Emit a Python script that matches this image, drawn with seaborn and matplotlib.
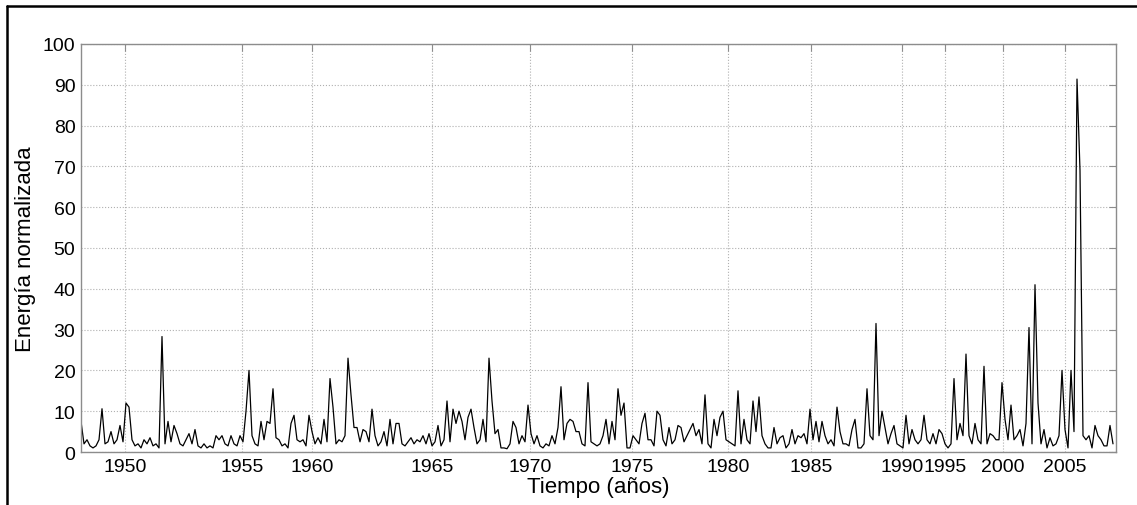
import numpy as np
import pandas as pd
import matplotlib
matplotlib.use("Agg")
import matplotlib.pyplot as plt
from matplotlib.lines import Line2D
import seaborn as sns

# Normalised energy, one sample per step
energia = [
    7.5, 2.0, 3.0, 1.5, 1.0, 1.5, 3.0, 10.6, 2.0, 2.5,
    5.0, 2.0, 3.0, 6.5, 2.5, 12.0, 11.0, 3.0, 1.5, 2.0,
    1.0, 3.0, 2.0, 3.5, 1.5, 2.0, 1.0, 28.3, 2.0, 7.5,
    2.5, 6.5, 4.5, 2.0, 1.5, 3.0, 4.5, 2.0, 5.5, 1.5,
    1.0, 2.0, 1.0, 1.5, 1.0, 4.0, 3.0, 4.0, 2.0, 1.5,
    4.0, 2.0, 1.5, 4.0, 2.5, 10.0, 20.0, 4.0, 2.0, 1.5,
    7.5, 3.0, 7.5, 7.0, 15.5, 3.5, 3.0, 1.5, 2.0, 1.0,
    7.0, 9.0, 3.0, 2.5, 3.0, 1.5, 9.0, 5.0, 2.0, 3.5,
    2.0, 8.0, 2.5, 18.0, 11.0, 2.0, 3.0, 2.5, 4.0, 23.0,
    14.0, 6.0, 6.0, 2.5, 5.5, 5.0, 2.5, 10.5, 4.0, 1.5,
    2.5, 5.0, 1.5, 8.0, 2.0, 7.0, 7.0, 2.0, 1.5, 2.5,
    3.5, 2.0, 3.0, 2.5, 4.0, 2.0, 4.5, 1.5, 2.5, 6.5,
    1.5, 3.0, 12.5, 2.5, 10.5, 7.0, 10.0, 7.5, 3.0, 8.5,
    10.5, 6.0, 2.0, 3.0, 8.0, 2.5, 23.0, 12.5, 4.5, 5.5,
    1.0, 1.0, 0.8, 2.0, 7.5, 6.0, 2.0, 4.0, 2.5, 11.5,
    4.5, 2.0, 4.0, 1.5, 1.0, 2.0, 1.5, 4.0, 2.0, 6.0,
    16.0, 3.0, 7.0, 8.0, 7.5, 5.0, 5.0, 2.0, 1.5, 17.0,
    2.5, 2.0, 1.5, 2.0, 4.0, 8.0, 2.0, 7.5, 3.0, 15.5,
    9.0, 12.0, 1.0, 1.0, 4.0, 3.0, 2.0, 7.0, 9.5, 3.0,
    3.0, 1.5, 10.0, 9.0, 3.0, 1.5, 6.0, 2.0, 3.0, 6.5,
    6.0, 2.5, 4.0, 5.5, 7.0, 4.0, 5.5, 2.0, 14.0, 2.0,
    1.0, 8.0, 4.0, 8.5, 10.0, 3.0, 2.5, 2.0, 1.5, 15.0,
    2.0, 8.0, 3.0, 2.0, 12.5, 5.0, 13.5, 4.0, 2.0, 1.0,
    1.0, 6.0, 2.0, 3.5, 4.0, 1.0, 2.0, 5.5, 2.0, 4.0,
    3.5, 4.5, 2.0, 10.5, 3.0, 7.5, 2.5, 7.5, 4.0, 2.0,
    3.0, 1.5, 11.0, 5.0, 2.0, 2.0, 1.5, 5.5, 8.0, 1.0,
    1.0, 2.0, 15.5, 4.0, 3.0, 31.5, 4.0, 10.0, 6.0, 2.0,
    4.5, 6.5, 2.0, 1.5, 1.0, 9.0, 2.0, 5.5, 3.0, 2.0,
    3.0, 9.0, 3.0, 2.0, 4.5, 2.0, 5.5, 4.5, 2.0, 1.0,
    2.0, 18.0, 3.0, 7.0, 4.0, 24.0, 4.0, 2.0, 7.0, 3.0,
    2.0, 21.0, 2.0, 4.5, 4.0, 3.0, 3.0, 17.0, 8.0, 3.0,
    11.5, 3.0, 4.0, 5.5, 1.5, 7.0, 30.5, 2.0, 41.0, 12.0,
    2.0, 5.5, 1.0, 3.5, 1.5, 2.0, 4.0, 20.0, 5.5, 1.0,
    20.0, 5.0, 91.4, 69.0, 4.0, 3.0, 4.0, 1.0, 6.5, 4.0,
    3.0, 1.5, 1.5, 6.5, 2.0,
]
muestra = list(range(len(energia)))

# Year tick labels and the sample index at which each one sits
anios = ["1950", "1955", "1960", "1965", "1970", "1975",
         "1980", "1985", "1990", "1995", "2000", "2005"]
anios_pos = [14.7, 53.7, 77.0, 117.0, 149.7, 183.7,
             215.7, 243.3, 273.7, 288.0, 307.3, 328.0]
y_ticks = list(range(0, 101, 10))

df = pd.DataFrame({"muestra": muestra, "energia": energia})

sns.set_style("white")
plt.rcParams["font.family"] = ["Liberation Sans", "DejaVu Sans"]
plt.rcParams["text.color"] = "black"
plt.rcParams["axes.labelcolor"] = "black"
plt.rcParams["xtick.color"] = "black"
plt.rcParams["ytick.color"] = "black"

fig = plt.figure(figsize=(11.37, 5.06), dpi=100)
ax = fig.add_axes([81 / 1137, 1 - 453 / 506, (1116 - 81) / 1137, (453 - 45) / 506])

sns.lineplot(data=df, x="muestra", y="energia", color="black",
             linewidth=0.9, ax=ax, estimator=None)

ax.set_xlim(0, len(energia))
ax.set_ylim(0, 100)
ax.set_xticks(anios_pos)
ax.set_xticklabels(anios)
ax.set_yticks(y_ticks)
ax.tick_params(axis="both", labelsize=14, direction="in", length=5,
               color="#8c8c8c", labelcolor="black", top=True, right=True, pad=4)
ax.grid(True, linestyle=":", color="#b0b0b0", linewidth=0.8)
for s in ax.spines.values():
    s.set_color("#8c8c8c")
    s.set_linewidth(1.0)

ax.set_xlabel("Tiempo (años)", fontsize=16, labelpad=1, color="black")
ax.set_ylabel("Energía normalizada", fontsize=16, labelpad=5, color="black")

# Outer frame (top and left edges)
fig.add_artist(Line2D([7 / 1137, 1.0], [1 - 7 / 506, 1 - 7 / 506],
                      transform=fig.transFigure, color="black", linewidth=1.8))
fig.add_artist(Line2D([7 / 1137, 7 / 1137], [0.0, 1 - 7 / 506],
                      transform=fig.transFigure, color="black", linewidth=1.8))

fig.savefig("out.png", dpi=100)
